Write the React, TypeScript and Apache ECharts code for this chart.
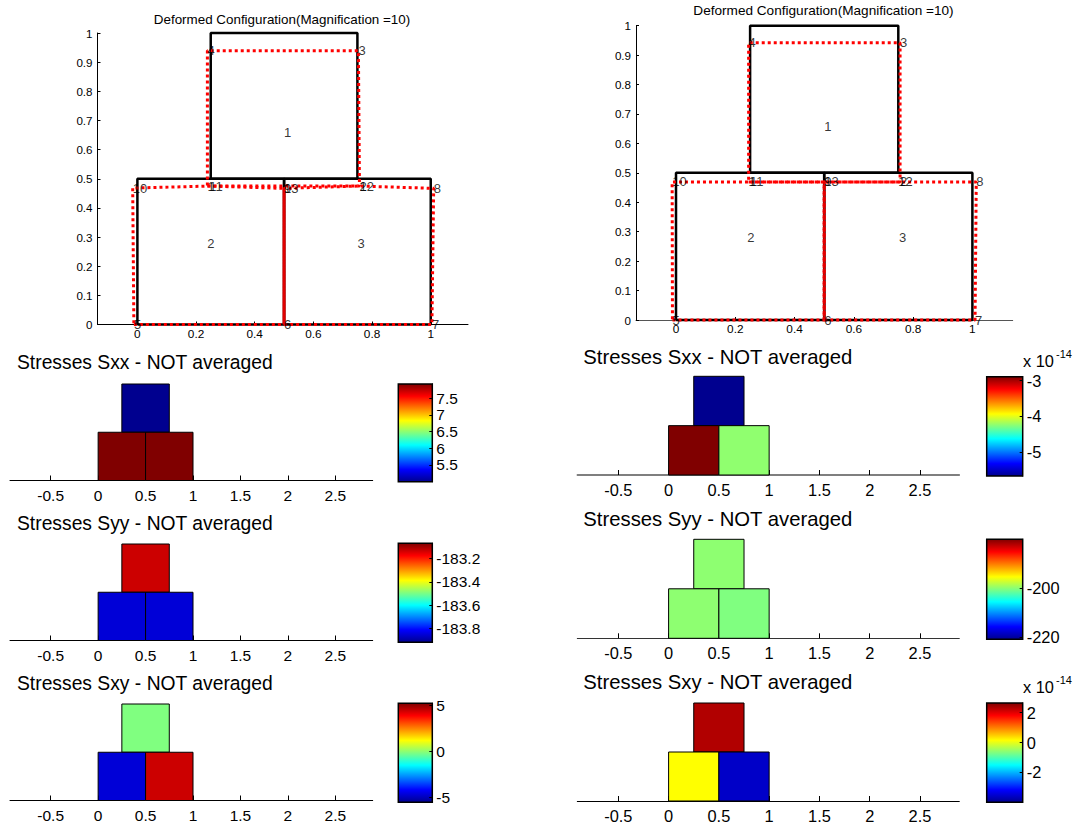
import React, { useEffect, useRef } from "react";
import * as echarts from "echarts";

const FONT = "Liberation Sans";

// Mesh, undeformed
const element1 = [[0.25, 0.5], [0.75, 0.5], [0.75, 1], [0.25, 1], [0.25, 0.5]];
const element2 = [[0, 0], [0.5, 0], [0.5, 0.5], [0, 0.5], [0, 0]];
const element3 = [[0.5, 0], [1, 0], [1, 0.5], [0.5, 0.5], [0.5, 0]];

// Deformed nodes, numbers 1..13
const nodesLeft = [
  [0.2386, 0.475], [0.757, 0.475], [0.7534, 0.939], [0.2386, 0.939], [-0.012, 0], [0.5, 0], [1.004, 0],
  [1.01, 0.467], [0.5, 0.467], [-0.016, 0.468], [0.245, 0.475], [0.757, 0.475], [0.5, 0.467],
];
const nodesRight = [
  [0.245, 0.469], [0.756, 0.469], [0.756, 0.942], [0.245, 0.942], [-0.012, 0], [0.5, 0], [1.009, 0],
  [1.013, 0.469], [0.5, 0.469], [-0.013, 0.469], [0.25, 0.469], [0.75, 0.469], [0.5, 0.469],
];
const element1Nodes = [1, 2, 3, 4, 1];
const element2Nodes = [5, 6, 13, 11, 10, 5];
const element3Nodes = [6, 7, 8, 12, 13, 6];
const sharedEdgeNodes = [6, 13];
const elementLabelsLeft = [[0.5, 0.658, "1"], [0.238, 0.279, "2"], [0.75, 0.279, "3"]];
const elementLabelsRight = [[0.5, 0.657, "1"], [0.24, 0.282, "2"], [0.752, 0.282, "3"]];

const topTicksX = [0, 0.2, 0.4, 0.6, 0.8, 1];
const topTicksY = [0, 0.1, 0.2, 0.3, 0.4, 0.5, 0.6, 0.7, 0.8, 0.9, 1];
const fieldTicksX = [-0.5, 0, 0.5, 1, 1.5, 2, 2.5];

// Cell rectangles [x0, y0, x1, y1]
const cells = [[0.25, 0.5, 0.75, 1], [0, 0, 0.5, 0.5], [0.5, 0, 1, 0.5]];

// Cell values for each field (element 1, 2, 3)
const sxxLeft = [5.0, 7.92, 7.92];
const syyLeft = [-183.131, -183.852, -183.852];
const sxyLeft = [-0.125, -4.64, 4.44];
const sxxRight = [-5.68, -2.89, -4.24];
const syyRight = [-199.8, -199.8, -200.4];
const sxyRight = [2.33, 0.156, -3.58];

// Colour bar ranges and ticks
const sxxLeftRange = [5.0, 7.92];
const syyLeftRange = [-183.92, -183.067];
const sxyLeftRange = [-5.5, 5.25];
const sxxRightRange = [-5.68, -2.89];
const syyRightRange = [-220.8, -180];
const sxyRightRange = [-4.0, 2.65];
const sxxLeftTicks = [5.5, 6, 6.5, 7, 7.5];
const syyLeftTicks = [-183.8, -183.6, -183.4, -183.2];
const sxyLeftTicks = [-5, 0, 5];
const sxxRightTicks = [-5, -4, -3];
const syyRightTicks = [-220, -200];
const sxyRightTicks = [-2, 0, 2];

const jetStops: [number, number[]][] = [
  [0, [0, 0, 0.5625]], [0.125, [0, 0, 1]], [0.375, [0, 1, 1]],
  [0.625, [1, 1, 0]], [0.875, [1, 0, 0]], [1, [0.5, 0, 0]],
];
const rgb = (c: number[]) => `rgb(${c.map((v) => Math.round(v * 255)).join(",")})`;
const jet = (t: number) => {
  const u = Math.min(1, Math.max(0, t));
  for (let i = 1; i < jetStops.length; i++) {
    const [a, ca] = jetStops[i - 1];
    const [b, cb] = jetStops[i];
    if (u <= b) return rgb(ca.map((v, k) => v + ((cb[k] - v) * (u - a)) / (b - a)));
  }
  return rgb(jetStops[jetStops.length - 1][1]);
};

function buildOption() {
  const grid: any[] = [];
  const xAxis: any[] = [];
  const yAxis: any[] = [];
  const series: any[] = [];
  const title: any[] = [];

  const addText = (text: string, left: number, cy: number, fs: number, align = "left") =>
    title.push({
      text, left, top: cy - fs / 2 - 1, padding: 0, textAlign: align,
      textStyle: { fontFamily: FONT, fontSize: fs, fontWeight: "normal", color: "#000", lineHeight: fs + 2 },
    });

  const addTop = (
    g: any, nodes: number[][], elemLabels: any[], xr: number[], titleX: number, titleY: number, titleFs: number, xLine: string
  ) => {
    const i = grid.length;
    grid.push({ ...g, containLabel: false });
    xAxis.push({
      type: "value", gridIndex: i, min: xr[0], max: xr[1], splitLine: { show: false },
      axisLine: { show: true, onZero: false, lineStyle: { color: xLine, width: 1 } },
      axisTick: { show: true, inside: true, length: 3, customValues: topTicksX, lineStyle: { color: "#000" } },
      axisLabel: { customValues: topTicksX, margin: 3, fontFamily: FONT, fontSize: 11.8, color: "#000", formatter: (v: number) => String(v) },
    });
    yAxis.push({
      type: "value", gridIndex: i, min: 0, max: 1, splitLine: { show: false },
      axisLine: { show: true, onZero: false, lineStyle: { color: "#000", width: 1 } },
      axisTick: { show: true, inside: true, length: 3, customValues: topTicksY, lineStyle: { color: "#000" } },
      axisLabel: { customValues: topTicksY, margin: 5, fontFamily: FONT, fontSize: 11.6, color: "#000", formatter: (v: number) => String(v) },
    });
    const base = { type: "line", xAxisIndex: i, yAxisIndex: i, symbol: "none", clip: false, silent: true };
    [element1, element2, element3].forEach((d) =>
      series.push({ ...base, data: d, z: 3, lineStyle: { color: "#000", width: 2.5 } })
    );
    [element1Nodes, element2Nodes, element3Nodes].forEach((ids) =>
      series.push({
        ...base, data: ids.map((n) => nodes[n - 1]), z: 4,
        lineStyle: { color: "#f00", width: 3, type: [3, 3] },
      })
    );
    series.push({
      ...base, data: sharedEdgeNodes.map((n) => nodes[n - 1]), z: 4,
      lineStyle: { color: "#e00000", width: 2 },
    });
    series.push({
      type: "scatter", xAxisIndex: i, yAxisIndex: i, symbolSize: 0, clip: false, z: 5, silent: true,
      data: nodes.map((p, n) => [p[0], p[1], String(n + 1)]).concat(elemLabels),
      label: {
        show: true, position: "right", distance: 0, fontFamily: FONT, fontSize: 13, color: "#000",
        formatter: (p: any) => p.value[2],
      },
    });
    addText("Deformed Configuration(Magnification =10)", titleX, titleY, titleFs, "center");
  };

  const addField = (
    name: string, g: any, xr: number[], values: number[], range: number[], cg: any, ticks: number[],
    fs: number, titleFs: number, titleX: number, titleY: number, xLine = "#000", xLineW = 1
  ) => {
    const i = grid.length;
    grid.push(g);
    xAxis.push({
      type: "value", gridIndex: i, min: xr[0], max: xr[1], splitLine: { show: false },
      axisLine: { show: true, onZero: false, lineStyle: { color: xLine, width: xLineW } },
      axisTick: { show: true, inside: true, length: 5, customValues: fieldTicksX, lineStyle: { color: "#000" } },
      axisLabel: { customValues: fieldTicksX, margin: 7, fontFamily: FONT, fontSize: fs, color: "#000", formatter: (v: number) => String(v) },
    });
    yAxis.push({ type: "value", gridIndex: i, min: 0, max: 1, show: false });
    series.push({
      type: "custom", xAxisIndex: i, yAxisIndex: i, clip: false, silent: true, z: 3,
      encode: { x: [0, 2], y: [1, 3] },
      data: cells.map((c, k) => [...c, values[k]]),
      renderItem: (_: any, api: any) => {
        const a = api.coord([api.value(0), api.value(1)]);
        const b = api.coord([api.value(2), api.value(3)]);
        const t = (api.value(4) - range[0]) / (range[1] - range[0]);
        return {
          type: "rect",
          shape: { x: a[0], y: b[1], width: b[0] - a[0], height: a[1] - b[1] },
          style: { fill: jet(t), stroke: "#000", lineWidth: 1 },
        };
      },
    });
    addText(`Stresses ${name} - NOT averaged`, titleX, titleY, titleFs);

    // colour bar
    const j = grid.length;
    grid.push(cg);
    xAxis.push({ type: "value", gridIndex: j, min: 0, max: 1, show: false });
    yAxis.push({
      type: "value", gridIndex: j, min: range[0], max: range[1], position: "right", z: 5, splitLine: { show: false },
      axisLine: { show: true, onZero: false, lineStyle: { color: "#000", width: 1 } },
      axisTick: { show: true, inside: true, length: 3, customValues: ticks, lineStyle: { color: "#000" } },
      axisLabel: { customValues: ticks, margin: 4, fontFamily: FONT, fontSize: fs, color: "#000", formatter: (v: number) => String(v) },
    });
    series.push({
      type: "custom", xAxisIndex: j, yAxisIndex: j, clip: false, silent: true, z: 3,
      encode: { x: [0, 2], y: [1, 3] },
      data: [[0, range[0], 1, range[1]]],
      renderItem: (_: any, api: any) => {
        const a = api.coord([api.value(0), api.value(1)]);
        const b = api.coord([api.value(2), api.value(3)]);
        return {
          type: "rect",
          shape: { x: a[0], y: b[1], width: b[0] - a[0], height: a[1] - b[1] },
          style: {
            fill: new echarts.graphic.LinearGradient(0, 1, 0, 0, jetStops.map(([offset, c]) => ({ offset, color: rgb(c) }))),
            stroke: "#000", lineWidth: 1.5,
          },
        };
      },
    });
  };

  addTop({ left: 97.5, top: 33, width: 370.5, height: 291.5 }, nodesLeft, elementLabelsLeft, [-0.136, 1.127], 282, 19.5, 13.4, "#000");
  addTop({ left: 636, top: 25.7, width: 376.7, height: 294.3 }, nodesRight, elementLabelsRight, [-0.135, 1.136], 823.5, 11, 13.6, "#555");

  const leftG = (top: number, bottom: number) => ({ left: 10, width: 362.7, top, height: bottom - top });
  const rightG = (top: number, bottom: number) => ({ left: 577.3, width: 382, top, height: bottom - top });
  const leftC = (top: number, bottom: number) => ({ left: 398.3, width: 34, top, height: bottom - top });
  const rightC = (top: number, bottom: number) => ({ left: 986.7, width: 36, top, height: bottom - top });
  const xl = [-0.929, 2.894];
  const xr = [-0.908, 2.891];

  addField("Sxx", leftG(384, 480.5), xl, sxxLeft, sxxLeftRange, leftC(384, 481.7), sxxLeftTicks, 15.5, 19.3, 17, 363);
  addField("Syy", leftG(544, 640.5), xl, syyLeft, syyLeftRange, leftC(543.3, 642.3), syyLeftTicks, 15.5, 19.3, 17, 524);
  addField("Sxy", leftG(704, 800.5), xl, sxyLeft, sxyLeftRange, leftC(703.3, 802.3), sxyLeftTicks, 15.5, 19.3, 17, 684);
  addField("Sxx", rightG(376.3, 475), xr, sxxRight, sxxRightRange, rightC(376.7, 476), sxxRightTicks, 16.4, 20.3, 583.3, 356.7, "#555", 1.5);
  addField("Syy", rightG(539.3, 638.3), xr, syyRight, syyRightRange, rightC(539.3, 639.3), syyRightTicks, 16.4, 20.3, 583.3, 519, "#333", 1);
  addField("Sxy", rightG(703, 801), xr, sxyRight, sxyRightRange, rightC(703, 802.3), sxyRightTicks, 16.4, 20.3, 583.3, 681.7);

  addText("x 10", 1023, 361.5, 16.4);
  addText("-14", 1056, 353.5, 11);
  addText("x 10", 1023, 687.5, 16.4);
  addText("-14", 1056, 679.5, 11);

  return { animation: false, backgroundColor: "#fff", title, grid, xAxis, yAxis, series, tooltip: { show: false } };
}

export default function App() {
  const ref = useRef<HTMLDivElement>(null);
  useEffect(() => {
    const chart = echarts.init(ref.current!, undefined, { renderer: "svg" });
    chart.setOption(buildOption() as any);
    return () => chart.dispose();
  }, []);
  return <div ref={ref} style={{ position: "absolute", left: 0, top: 0, width: 1075, height: 829 }} />;
}
